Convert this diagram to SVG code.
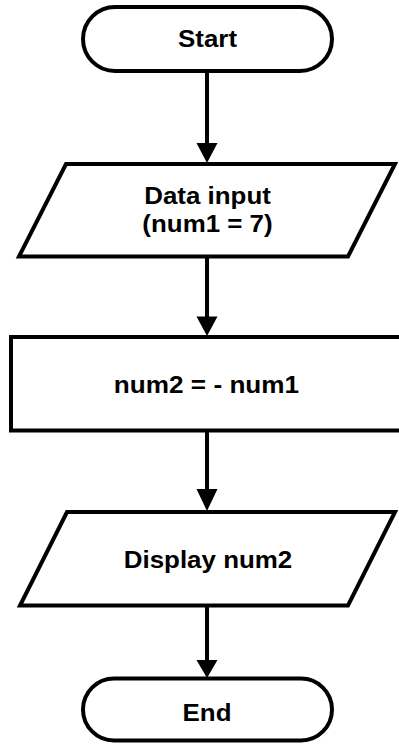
<svg xmlns="http://www.w3.org/2000/svg" width="399" height="744" viewBox="0 0 399 744">
<defs>
<style>
.shape{fill:#fff;stroke:#000;stroke-width:4;stroke-linejoin:miter}
.conn{stroke:#000;stroke-width:4;fill:none}
.head{fill:#000;stroke:none}
.lbl{font-family:"Liberation Sans",Arial,sans-serif;font-weight:bold;font-size:24px;fill:#000;text-anchor:middle}
</style>
</defs>
<rect width="399" height="744" fill="#fff"/>
<g id="connectors">
<line class="conn" x1="207" y1="72" x2="207" y2="145"/>
<polygon class="head" points="196.5,143 217.5,143 207,163"/>
<line class="conn" x1="207" y1="258" x2="207" y2="318"/>
<polygon class="head" points="196.5,316.5 217.5,316.5 207,336"/>
<line class="conn" x1="207" y1="432" x2="207" y2="491"/>
<polygon class="head" points="196.5,489 217.5,489 207,511"/>
<line class="conn" x1="207" y1="607" x2="207" y2="662"/>
<polygon class="head" points="196.5,660 217.5,660 207,678"/>
</g>
<g id="start">
<rect class="shape" x="83" y="7" width="249" height="64" rx="32" ry="32"/>
<text class="lbl" transform="translate(207.5,46.5) scale(1.08,1)">Start</text>
</g>
<g id="input">
<polygon class="shape" points="66,164 395,164 348,256.5 19,256.5"/>
<text class="lbl" transform="translate(207.5,204) scale(1.08,1)">Data input</text>
<text class="lbl" transform="translate(207.5,231.5) scale(1.08,1)">(num1 = 7)</text>
</g>
<g id="process">
<rect class="shape" x="11" y="337" width="400" height="93.5"/>
<text class="lbl" transform="translate(206.5,393.3) scale(1.09,1)">num2 = - num1</text>
</g>
<g id="output">
<polygon class="shape" points="67,512 395,512 348,605.5 20,605.5"/>
<text class="lbl" transform="translate(208,568.3) scale(1.08,1)">Display num2</text>
</g>
<g id="end">
<rect class="shape" x="83" y="678.5" width="249" height="62" rx="31" ry="31"/>
<text class="lbl" transform="translate(207,720.7) scale(1.08,1)">End</text>
</g>
</svg>
